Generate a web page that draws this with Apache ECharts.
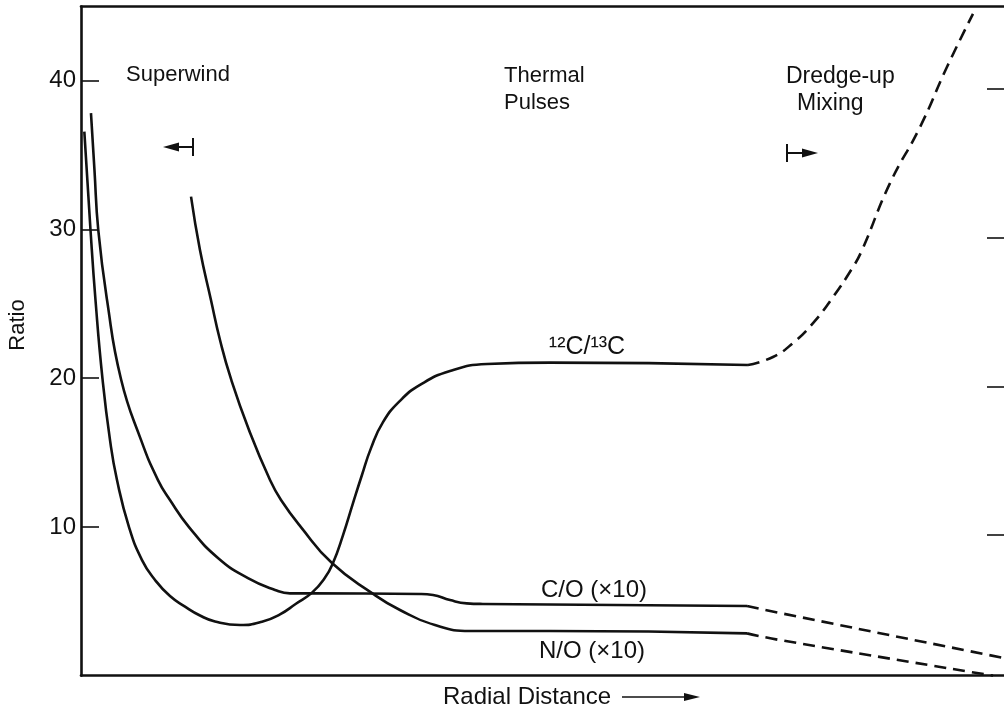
<!DOCTYPE html>
<html><head><meta charset="utf-8">
<script src="https://cdn.jsdelivr.net/npm/echarts@6/dist/echarts.min.js"></script>
<style>html,body{margin:0;padding:0;background:#fff}#c{width:1004px;height:716px}</style>
</head><body><div id="c"></div>
<script>
// ---- data (x: radial distance, arbitrary 0-100; y: ratio) ----
const yTickValues = [10, 20, 30, 40];
const c12c13Solid = [[0.36,36.58],[1.03,29.97],[1.57,25.26],[2.33,19.95],[3.14,15.85],[3.90,13.15],[5.20,9.99],[6.61,7.77],[8.02,6.43],[9.64,5.35],[11.27,4.64],[12.89,4.04],[14.52,3.64],[17.23,3.40],[19.61,3.62],[21.56,4.12],[23.29,4.83],[25.03,5.58],[26.44,6.59],[27.30,7.57],[28.39,9.45],[29.47,11.60],[30.44,13.49],[31.42,15.30],[32.72,17.05],[34.56,18.48],[36.73,19.55],[39.98,20.49],[43.99,20.96],[50.81,21.05],[72.26,20.89]];
const c12c13Dashed = [[72.26,20.89],[74.97,21.43],[77.14,22.37],[79.31,23.71],[81.47,25.46],[83.64,27.48],[84.62,28.62],[87.65,33.12],[90.90,36.89],[93.82,40.93],[96.64,44.5]];
const coSolid = [[1.08,37.83],[1.46,34.0],[1.87,29.97],[2.82,25.26],[4.33,19.95],[6.50,15.85],[8.34,13.15],[9.64,11.81],[11.70,9.99],[14.84,7.91],[18.09,6.56],[21.02,5.76],[22.64,5.53],[24.92,5.53],[36.73,5.49],[38.14,5.42],[39.98,5.08],[41.79,4.86],[43.55,4.82],[72.16,4.68]];
const coDashed = [[72.16,4.68],[75.73,4.21],[100,1.18]];
const noSolid = [[11.92,32.21],[12.89,28.62],[14.08,25.26],[15.06,22.57],[16.25,19.95],[18.20,16.52],[20.48,13.15],[21.67,11.81],[23.83,9.99],[27.19,7.57],[31.53,5.55],[34.56,4.41],[38.35,3.40],[42.15,3.0],[50.81,3.0],[72.16,2.84]];
const noDashed = [[72.16,2.84],[75.73,2.39],[98.81,0]];

const FONT = "'Liberation Sans', Arial, sans-serif";
const INK = '#111';
const chart = echarts.init(document.getElementById('c'), null, {renderer: 'canvas'});

function lineSeries(data, dashed) {
  return {
    type: 'line', data: data, showSymbol: false, smooth: 0.5,
    silent: true, clip: true,
    lineStyle: {color: INK, width: 2.6, type: dashed ? [12, 7] : 'solid'}
  };
}
const axisLine = {show: true, onZero: false, lineStyle: {color: INK, width: 2.6}};

function text(t, x, y, size, opts) {
  opts = opts || {};
  return {type: 'text', x: x, y: y, rotation: opts.rotation || 0, silent: true,
    style: {text: t, fontSize: size, fontFamily: FONT, fill: INK, align: opts.align || 'left', verticalAlign: 'middle'}};
}

chart.setOption({
  animation: false,
  backgroundColor: '#fff',
  grid: {left: 81, right: 0, top: 6.5, bottom: 40.4, containLabel: false},
  xAxis: [
    {type: 'value', min: 0, max: 100, position: 'bottom', axisLine: axisLine, axisTick: {show: false}, axisLabel: {show: false}, splitLine: {show: false}},
    {type: 'value', min: 0, max: 100, position: 'top', axisLine: axisLine, axisTick: {show: false}, axisLabel: {show: false}, splitLine: {show: false}}
  ],
  yAxis: [
    {type: 'value', min: 0, max: 45, position: 'left', axisLine: axisLine,
     axisTick: {show: true, inside: true, length: 18, customValues: yTickValues, lineStyle: {color: INK, width: 1.6}},
     axisLabel: {show: true, customValues: yTickValues, color: INK, fontSize: 24, fontFamily: FONT, margin: 5},
     splitLine: {show: false}},
    {type: 'value', min: 0, max: 45, position: 'right', axisLine: {show: false, onZero: false},
     axisTick: {show: true, inside: true, length: 17, customValues: yTickValues.map(v => v - 0.55), lineStyle: {color: INK, width: 1.6}},
     axisLabel: {show: false}, splitLine: {show: false}}
  ],
  series: [
    lineSeries(c12c13Solid, false), lineSeries(c12c13Dashed, true),
    lineSeries(coSolid, false), lineSeries(coDashed, true),
    lineSeries(noSolid, false), lineSeries(noDashed, true)
  ],
  graphic: [
    text('Superwind', 126, 75, 22),
    text('Thermal', 504, 76, 22),
    text('Pulses', 504, 103, 22),
    text('Dredge-up', 786, 77, 23),
    text('Mixing', 797, 104, 23),
    text('\u00B9\u00B2C/\u00B9\u00B3C', 587, 347, 25, {align: 'center'}),
    text('C/O (\u00D710)', 594, 590, 24, {align: 'center'}),
    text('N/O (\u00D710)', 592, 651, 24, {align: 'center'}),
    text('Radial Distance', 443, 697, 24),
    text('Ratio', 18, 325, 22, {rotation: Math.PI / 2, align: 'center'}),
    // superwind arrow  <-|
    {type: 'line', silent: true, shape: {x1: 172, y1: 147, x2: 193, y2: 147}, style: {stroke: INK, lineWidth: 2}},
    {type: 'line', silent: true, shape: {x1: 193, y1: 138, x2: 193, y2: 156}, style: {stroke: INK, lineWidth: 2}},
    {type: 'polygon', silent: true, shape: {points: [[163, 147], [179, 142.5], [179, 151.5]]}, style: {fill: INK}},
    // dredge-up arrow |->
    {type: 'line', silent: true, shape: {x1: 787, y1: 153, x2: 808, y2: 153}, style: {stroke: INK, lineWidth: 2}},
    {type: 'line', silent: true, shape: {x1: 787, y1: 144, x2: 787, y2: 162}, style: {stroke: INK, lineWidth: 2}},
    {type: 'polygon', silent: true, shape: {points: [[818, 153], [802, 148.5], [802, 157.5]]}, style: {fill: INK}},
    // radial distance arrow
    {type: 'line', silent: true, shape: {x1: 622, y1: 697, x2: 690, y2: 697}, style: {stroke: INK, lineWidth: 1.6}},
    {type: 'polygon', silent: true, shape: {points: [[700, 697], [684, 693], [684, 701]]}, style: {fill: INK}}
  ]
});
</script></body></html>
